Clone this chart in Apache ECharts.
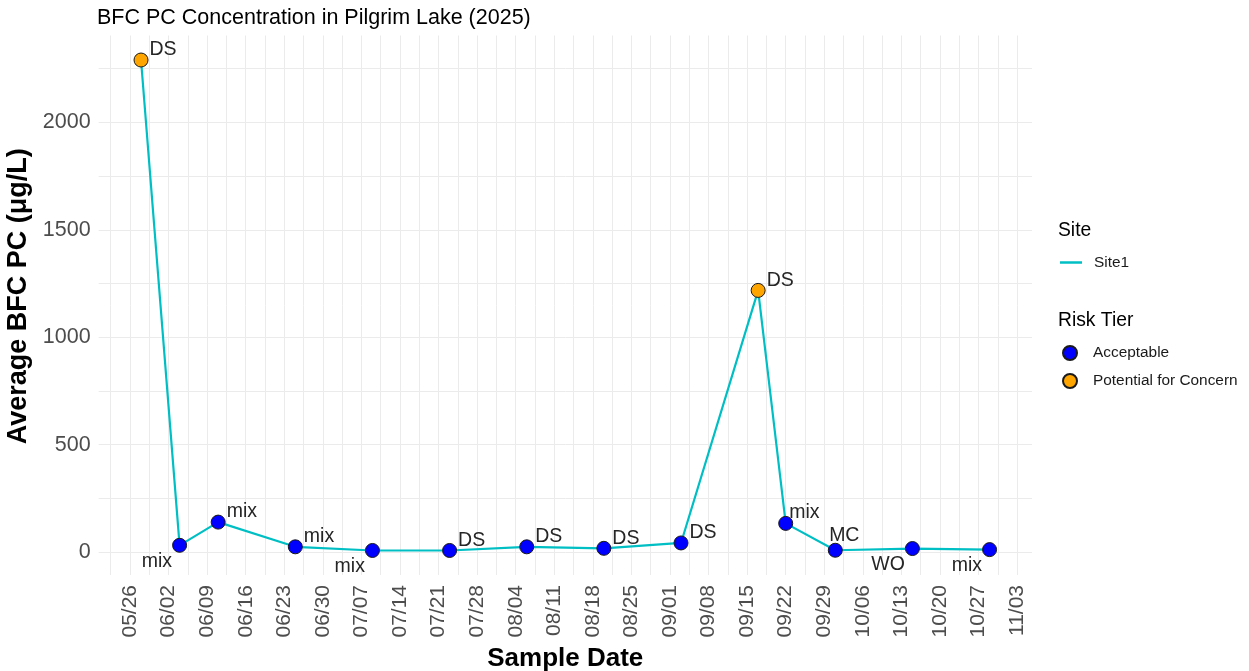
<!DOCTYPE html>
<html>
<head>
<meta charset="utf-8">
<title>BFC PC Concentration in Pilgrim Lake (2025)</title>
<script src="https://cdn.jsdelivr.net/npm/echarts@6/dist/echarts.min.js"></script>
<style>
  html, body { margin: 0; padding: 0; background: #fff; }
  #chart { width: 1249px; height: 671px; }
</style>
</head>
<body>
<div id="chart"></div>
<script>
// samples (MM/DD, 2025)
const sampleDates = ['05/28', '06/04', '06/11', '06/25', '07/09', '07/23', '08/06', '08/20', '09/03', '09/17', '09/22', '10/01', '10/15', '10/29']
const bfcValues = [2290, 32, 140, 25, 8, 8, 25, 18, 43, 1218, 134, 9, 17, 12]
const sampleTypes = ['DS', 'mix', 'mix', 'mix', 'mix', 'DS', 'DS', 'DS', 'DS', 'DS', 'mix', 'MC', 'WO', 'mix']
const riskTiers = ['Potential for Concern', 'Acceptable', 'Acceptable', 'Acceptable', 'Acceptable', 'Acceptable', 'Acceptable',
  'Acceptable', 'Acceptable', 'Potential for Concern', 'Acceptable', 'Acceptable', 'Acceptable', 'Acceptable']
const weekTicks = ['05/26', '06/02', '06/09', '06/16', '06/23', '06/30', '07/07', '07/14', '07/21', '07/28', '08/04', '08/11',
  '08/18', '08/25', '09/01', '09/08', '09/15', '09/22', '09/29', '10/06', '10/13', '10/20', '10/27', '11/03']
const yTicks = [0, 500, 1000, 1500, 2000]
const tierNames = ['Acceptable', 'Potential for Concern']

const FONT = '"Liberation Sans", Arial, sans-serif'
const DAY0 = Date.UTC(2025, 4, 26)
const pad = n => (n < 10 ? '0' : '') + n
const toDay = s => {
  const [m, d] = s.split('/').map(Number)
  return (Date.UTC(2025, m - 1, d) - DAY0) / 864e5
}
const fromDay = n => {
  const dt = new Date(DAY0 + Math.round(n) * 864e5)
  return pad(dt.getUTCMonth() + 1) + '/' + pad(dt.getUTCDate())
}

// ggplot style 5% expansion
const days = sampleDates.map(toDay)
const xSpan = Math.max(...days) - Math.min(...days)
const xMin = Math.min(...days) - 0.05 * xSpan
const xMax = Math.max(...days) + 0.05 * xSpan
const ySpan = Math.max(...bfcValues) - Math.min(...bfcValues)
const yMin = Math.min(...bfcValues) - 0.05 * ySpan
const yMax = Math.max(...bfcValues) + 0.05 * ySpan

// major + minor grid positions
const weekDays = weekTicks.map(toDay)
const xGrid = []
weekDays.forEach(d => { xGrid.push(d - 3.5, d) })
xGrid.push(weekDays[weekDays.length - 1] + 3.5)
const xGridIn = xGrid.filter(v => v >= xMin && v <= xMax)
const yGrid = []
yTicks.forEach(v => { yGrid.push(v, v + 250) })

// label placement per sample (ggrepel look)
const lowerLeft = { position: 'left', offset: [5, 16] }
const above = { position: 'top', offset: [9, 8] }
const upperRight = { position: 'right', offset: [-4, -10] }
const upperTight = { position: 'right', offset: [-9, -11] }
const placeFor = i => {
  if (sampleTypes[i] === 'MC') return above
  if (i === 1 || i === 4 || i === 12 || i === 13) return lowerLeft
  if (i === 10) return upperTight
  return upperRight
}

const tierColors = { 'Acceptable': '#0000FF', 'Potential for Concern': '#FFA500' }

const scatterSeries = tierNames.map(tier => ({
  name: tier,
  type: 'scatter',
  symbolSize: 14,
  z: 5,
  itemStyle: { color: tierColors[tier], opacity: 1, borderColor: '#1a1a1a', borderWidth: 1 },
  label: {
    show: true,
    fontFamily: FONT,
    fontSize: 19.5,
    color: '#262626',
    formatter: p => p.data.name
  },
  data: days.map((d, i) => ({ i, d }))
    .filter(o => riskTiers[o.i] === tier)
    .map(o => ({
      value: [o.d, bfcValues[o.i]],
      name: sampleTypes[o.i],
      label: placeFor(o.i)
    }))
}))

const chart = echarts.init(document.getElementById('chart'))
chart.setOption({
  animation: false,
  backgroundColor: '#ffffff',
  textStyle: { fontFamily: FONT },
  title: [
    {
      text: 'BFC PC Concentration in Pilgrim Lake (2025)',
      left: 92, top: 2,
      textStyle: { fontFamily: FONT, fontSize: 21.5, fontWeight: 'normal', color: '#000' }
    },
    { text: 'Site', left: 1053, top: 216, textStyle: { fontFamily: FONT, fontSize: 19.3, fontWeight: 'normal', color: '#000' } },
    { text: 'Risk Tier', left: 1053, top: 306, textStyle: { fontFamily: FONT, fontSize: 19.3, fontWeight: 'normal', color: '#000' } }
  ],
  legend: [
    {
      data: [{ name: 'Site1', icon: 'rect' }],
      left: 1055, top: 250,
      itemWidth: 22, itemHeight: 2.5,
      itemStyle: { color: '#00BFC4' },
      textStyle: { fontFamily: FONT, fontSize: 15.4, color: '#1a1a1a', padding: [0, 0, 0, 7] }
    },
    {
      data: tierNames,
      orient: 'vertical',
      left: 1057, top: 340,
      itemWidth: 14, itemHeight: 14, itemGap: 12,
      textStyle: { fontFamily: FONT, fontSize: 15.4, color: '#1a1a1a', padding: [0, 0, 0, 11] }
    }
  ],
  grid: { left: 98.6, right: 217, top: 35.5, bottom: 96, outerBoundsMode: 'none' },
  xAxis: {
    type: 'value',
    min: xMin, max: xMax,
    name: 'Sample Date',
    nameLocation: 'middle',
    nameGap: 67,
    nameTextStyle: { fontFamily: FONT, fontSize: 26, fontWeight: 'bold', color: '#000' },
    axisLine: { show: false },
    axisTick: { show: false, customValues: xGridIn },
    splitLine: { show: true, lineStyle: { color: '#EBEBEB', width: 1 } },
    axisLabel: {
      customValues: weekDays,
      rotate: 90,
      margin: 10,
      fontFamily: FONT, fontSize: 21, color: '#4D4D4D',
      formatter: v => fromDay(v)
    }
  },
  yAxis: {
    type: 'value',
    min: yMin, max: yMax,
    name: 'Average BFC PC (μg/L)',
    nameLocation: 'middle',
    nameGap: 59,
    nameTextStyle: { fontFamily: FONT, fontSize: 27, fontWeight: 'bold', color: '#000', padding: [0, 0, 0, 18] },
    axisLine: { show: false },
    axisTick: { show: false, customValues: yGrid },
    splitLine: { show: true, lineStyle: { color: '#EBEBEB', width: 1 } },
    axisLabel: {
      customValues: yTicks,
      margin: 8,
      fontFamily: FONT, fontSize: 21.5, color: '#4D4D4D',
      formatter: v => String(v)
    }
  },
  series: [
    {
      name: 'Site1',
      type: 'line',
      symbol: 'none',
      z: 3,
      lineStyle: { color: '#00BFC4', width: 2.2 },
      itemStyle: { color: '#00BFC4' },
      data: days.map((d, i) => [d, bfcValues[i]])
    },
    ...scatterSeries
  ]
})
</script>
</body>
</html>
